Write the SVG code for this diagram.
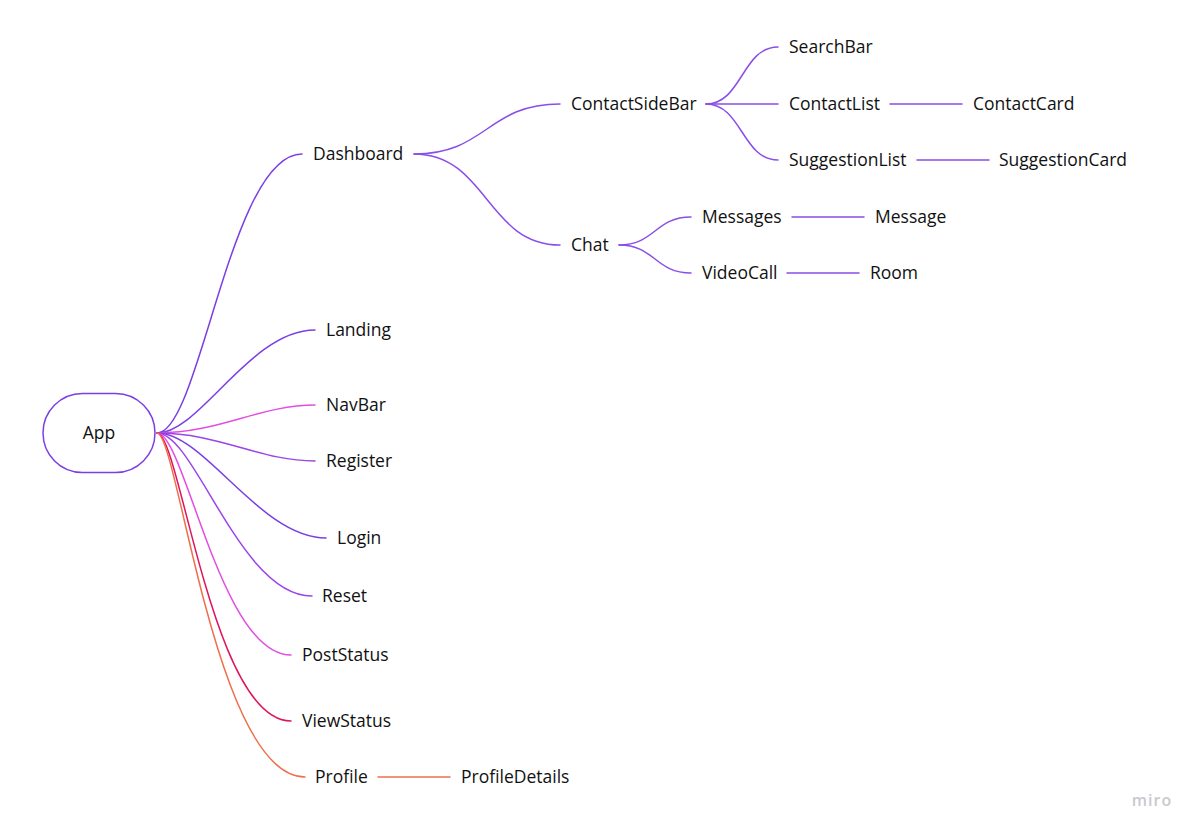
<svg xmlns="http://www.w3.org/2000/svg" width="1198" height="834" viewBox="0 0 1198 834">
<style>
text{font-family:"Open Sans","Noto Sans","Liberation Sans",sans-serif;font-size:17.5px;fill:#111111}
.c{fill:none;stroke-width:1.5;stroke-linecap:round}
.p{stroke:#7b3fe4}
.m{stroke:#9b45e6}
.k{stroke:#e44ee0}
.r{stroke:#e0145e}
.o{stroke:#ee6f4c}
.t{stroke:#8a4ee8}
</style>
<rect width="1198" height="834" fill="#ffffff"/>
<g id="connectors">
<path class="c p" d="M157 433 C200 433 230 154 302 154"/>
<path class="c p" d="M157 433 C200 433 250 330 315 330"/>
<path class="c k" d="M157 433 C220 433 260 405 315 405"/>
<path class="c m" d="M157 433 C220 433 260 461 315 461"/>
<path class="c p" d="M157 433 C205 433 260 538 326 538"/>
<path class="c m" d="M157 433 C195 433 240 596 312 596"/>
<path class="c k" d="M157 433 C185 433 220 655 291 655"/>
<path class="c r" d="M157 433 C180 433 212 721 291 721"/>
<path class="c o" d="M157 433 C178 433 215 777 305 777"/>
<path class="c o" d="M378 777 H450"/>
<path class="c t" d="M414 154 C487 154 487 104 560 104"/>
<path class="c t" d="M414 154 C487 154 487 245 560 245"/>
<path class="c t" d="M706 104 C742 104 742 47 778 47"/>
<path class="c t" d="M706 104 H778"/>
<path class="c t" d="M706 104 C742 104 742 160 778 160"/>
<path class="c t" d="M890 104 H962"/>
<path class="c t" d="M917 160 H989"/>
<path class="c t" d="M619 245 C655 245 655 217 691 217"/>
<path class="c t" d="M619 245 C655 245 655 273 691 273"/>
<path class="c t" d="M792 217 H864"/>
<path class="c t" d="M787 273 H859"/>
</g>
<g id="App">
<rect x="43" y="393.5" width="112" height="79" rx="39.5" fill="#ffffff" stroke="#7b3fe4" stroke-width="1.5"/>
<text x="99" y="439" text-anchor="middle">App</text>
</g>
<g id="Dashboard"><text x="313" y="160">Dashboard</text></g>
<g id="Landing"><text x="326" y="336">Landing</text></g>
<g id="NavBar"><text x="326" y="411">NavBar</text></g>
<g id="Register"><text x="326" y="467">Register</text></g>
<g id="Login"><text x="337" y="544">Login</text></g>
<g id="Reset"><text x="322" y="602">Reset</text></g>
<g id="PostStatus"><text x="302" y="661">PostStatus</text></g>
<g id="ViewStatus"><text x="302" y="727">ViewStatus</text></g>
<g id="Profile"><text x="315" y="783">Profile</text></g>
<g id="ProfileDetails"><text x="461" y="783">ProfileDetails</text></g>
<g id="ContactSideBar"><text x="571" y="110">ContactSideBar</text></g>
<g id="Chat"><text x="571" y="251">Chat</text></g>
<g id="SearchBar"><text x="789" y="53">SearchBar</text></g>
<g id="ContactList"><text x="789" y="110">ContactList</text></g>
<g id="ContactCard"><text x="973" y="110">ContactCard</text></g>
<g id="SuggestionList"><text x="789" y="166">SuggestionList</text></g>
<g id="SuggestionCard"><text x="999" y="166">SuggestionCard</text></g>
<g id="Messages"><text x="702" y="223">Messages</text></g>
<g id="Message"><text x="875" y="223">Message</text></g>
<g id="VideoCall"><text x="702" y="279">VideoCall</text></g>
<g id="Room"><text x="870" y="279">Room</text></g>
<text x="1152" y="806" text-anchor="middle" style="font-size:16px;fill:#c9c9cf;font-weight:600;letter-spacing:1px">miro</text>
</svg>
